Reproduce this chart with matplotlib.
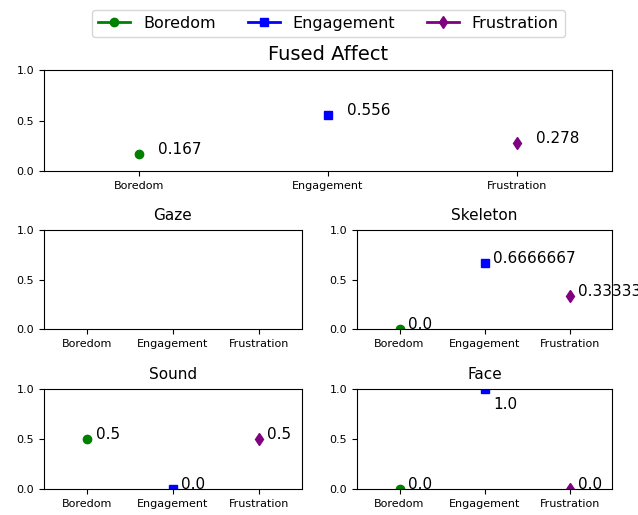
import numpy as np
import matplotlib.pyplot as plt
from matplotlib.lines import Line2D

categories = ['Boredom', 'Engagement', 'Frustration']
colors = ['green', 'blue', 'purple']
markers = ['o', 's', 'd']

fused = [0.167, 0.556, 0.278]
gaze = [np.nan, np.nan, np.nan]
skeleton = [0.0, 0.6666667, 0.3333333]
sound = [0.5, 0.0, 0.5]
face = [0.0, 1.0, 0.0]


def draw_panel(ax, title, values, fmt=str):
    x = np.arange(len(categories))
    for i, v in enumerate(values):
        ax.plot(x[i], v, marker=markers[i], color=colors[i], markersize=6, linestyle='')
        if not np.isnan(v):
            ty = v if v < 0.9 else v - 0.2
            ax.text(x[i] + 0.1, ty, fmt(v), fontsize=11)
    ax.set_xlim(-0.5, 2.5)
    ax.set_ylim(0, 1)
    ax.set_xticks(x)
    ax.set_xticklabels(categories)
    ax.set_yticks([0, 0.5, 1.0])
    ax.set_yticklabels(['0.0', '0.5', '1.0'])
    ax.tick_params(labelsize=8)
    ax.set_title(title, fontsize=11, pad=7)


fig = plt.figure(figsize=(6.38, 5.15), dpi=100)

ax_top = fig.add_axes([0.069, 0.668, 0.890, 0.196])
draw_panel(ax_top, 'Fused Affect', fused, fmt=lambda v: f'{v:.3f}')
ax_top.title.set_fontsize(14)

ax_gaze = fig.add_axes([0.069, 0.361, 0.404, 0.192])
draw_panel(ax_gaze, 'Gaze', gaze)
ax_skel = fig.add_axes([0.5596, 0.361, 0.400, 0.192])
draw_panel(ax_skel, 'Skeleton', skeleton)
ax_sound = fig.add_axes([0.069, 0.0505, 0.404, 0.194])
draw_panel(ax_sound, 'Sound', sound)
ax_face = fig.add_axes([0.5596, 0.0505, 0.400, 0.194])
draw_panel(ax_face, 'Face', face)

handles = [Line2D([0], [0], color=c, marker=m, linewidth=2, markersize=6)
           for c, m in zip(colors, markers)]
fig.legend(handles, categories, loc='upper center', bbox_to_anchor=(0.515, 0.997),
           ncol=3, fontsize=11.5, columnspacing=2.0)

fig.savefig('out.png', dpi=100)
